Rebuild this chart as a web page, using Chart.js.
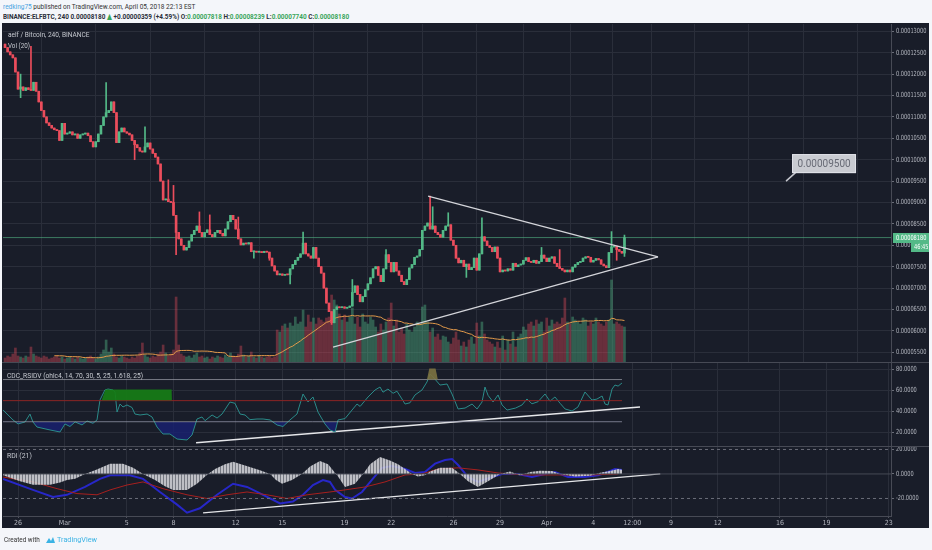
<!DOCTYPE html>
<html>
<head>
<meta charset="utf-8">
<script src="https://cdn.jsdelivr.net/npm/chart.js@4.4.1/dist/chart.umd.min.js"></script>
<style>
body{margin:0;background:#f4f6fa;width:932px;height:550px;overflow:hidden;position:relative;font-family:Roboto,'DejaVu Sans',sans-serif}
.t{position:absolute;white-space:nowrap;transform-origin:0 50%;line-height:1;z-index:3}
.in{color:#c5c8cf;font-size:8px}
.g{color:#3aa55a}
#frame{position:absolute;left:2px;top:23px;width:927px;height:505px;background:#191d29}
canvas{position:absolute;left:2px}
.sep{position:absolute;left:2px;width:927px;height:1px;background:#474a55;z-index:2}
</style>
</head>
<body>
<div id="frame"></div>
<canvas id="pricePane" width="927" height="340" style="top:23px"></canvas>
<canvas id="rsiPane" width="927" height="83" style="top:363px"></canvas>
<canvas id="rdiPane" width="927" height="81" style="top:447px"></canvas>
<div class="sep" style="top:362px"></div>
<div class="sep" style="top:446px"></div>

<div class="t" data-w="192" style="left:3px;top:2.5px;font-size:8px;color:#333"><span style="color:#4aa3df">redking75</span> published on TradingView.com, April 05, 2018 22:13 EST</div>
<div class="t" data-w="346" style="left:3px;top:12.5px;font-size:8px;font-weight:bold;color:#2a2e39">BINANCE:ELFBTC, 240 0.00008180 <span class="g">▲</span> +0.00000359 (+4.59%) O:<span class="g">0.00007818</span> H:<span class="g">0.00008239</span> L:<span class="g">0.00007740</span> C:<span class="g">0.00008180</span></div>
<div class="t in" data-w="81" style="left:8px;top:31px">aelf / Bitcoin, 240, BINANCE</div>
<div class="t in" data-w="22" style="left:8px;top:41.5px">Vol (20)</div>
<div class="t in" data-w="136" style="left:7px;top:372px">CDC_RSIDV (ohlc4, 14, 70, 30, 5, 25, 1.618, 25)</div>
<div class="t in" data-w="25" style="left:7px;top:452px">RDI (21)</div>
<div class="t" data-w="36" style="left:4px;top:536px;font-size:8px;color:#333">Created with</div>
<svg style="position:absolute;left:45px;top:535px" width="11" height="10" viewBox="0 0 11 10">
  <path d="M1 8 L4 3 L6 6 L8 2 L10 8 Z" fill="#3bb3e4"/>
</svg>
<div class="t" data-w="40" style="left:57px;top:536px;font-size:8px;color:#3bb3e4">TradingView</div>

<script>
// ---- time axis (days since Feb 26 2018 00:00) ----
const candleStartDay = -5 / 6;   // first 4h candle, Feb 25 04:00
const candleStepDay = 1 / 6;     // 240 minutes
const tickDays = [0, 3, 7, 10, 14, 17, 21, 24, 28, 31, 34, 37, 39.5, 42, 45, 49, 52, 56];
const tickLabels = ['26', 'Mar', '5', '8', '12', '15', '19', '22', '26', '29', 'Apr', '4', '12:00', '9', '12', '16', '19', '23'];

// ---- price, in satoshi (1e-8 BTC) ----
const firstOpen = 12700;
const closes = [
  12620, 12520, 12450, 12380, 12050, 11650, 11700, 11620, 11680, 11640,
  11620, 11810, 11600, 11350, 11150, 11000, 10860, 10800, 10740, 10700,
  10680, 10450, 10850, 10600, 10620, 10650, 10580, 10600, 10500, 10580,
  10600, 10620, 10560, 10420, 10300, 10420, 10600, 10800, 11000, 11100,
  11150, 11350, 11100, 10400, 10650, 10740, 10650, 10620, 10580, 10450,
  10350, 10280, 10200, 10180, 10300, 10390, 10250, 10150, 10060, 9900,
  9500, 9060, 9080, 9020, 9000, 8700, 8300, 8150, 8000, 7890,
  7950, 8100, 8250, 8350, 8450, 8300, 8200, 8300, 8360, 8250,
  8200, 8300, 8350, 8280, 8220, 8380, 8550, 8700, 8600, 8380,
  8150, 8010, 8050, 8030, 8060, 7850, 7860, 7840, 7850, 7830,
  7860, 7840, 7700, 7520, 7400, 7310, 7330, 7300, 7320, 7310,
  7450, 7550, 7650, 7720, 7800, 8050, 7800, 7750, 7700, 7950,
  7700, 7500, 7350, 7000, 6650, 6450, 6190, 6500, 6560, 6540,
  6560, 6530, 6550, 6580, 6900, 7050, 6850, 6680, 6800, 6960,
  7100, 7240, 7450, 7500, 7300, 7150, 7450, 7780, 7600, 7380,
  7600, 7400, 7300, 7150, 7080, 7200, 7470, 7550, 7720, 7750,
  7900, 8350, 8450, 8520, 8380, 8450, 8300, 8250, 8190, 8350,
  8450, 8480, 8120, 8000, 7700, 7590, 7650, 7500, 7560, 7430,
  7480, 7700, 7420, 7800, 8200, 8100, 7990, 7950, 7850, 7960,
  7700, 7380, 7420, 7400, 7450, 7420, 7580, 7500, 7540, 7560,
  7650, 7710, 7620, 7600, 7650, 7580, 7620, 7770, 7700, 7620,
  7700, 7730, 7580, 7500, 7460, 7420, 7380, 7420, 7380, 7490,
  7550, 7600, 7620, 7700, 7730, 7720, 7610, 7650, 7690, 7660,
  7560, 7520, 7480, 7830, 7960, 7980, 7900, 7860, 7818, 8180
];
// candles with visible wicks: index, high, low (null = no wick on that side)
const wickIdx  = [6, 10, 39, 50, 54, 63, 65, 66, 75, 79, 90, 96, 102, 110, 115, 126, 134, 147, 164, 165, 171, 178, 184, 207, 214, 234, 236, 239];
const wickHigh = [12000, 12650, 11800, null, 10770, 9530, 9400, null, 8780, 8710, 8660, null, null, null, 8310, null, 7200, 7900, 9150, 8900, 8760, null, 8640, 7950, 7900, 8320, null, 8239];
const wickLow  = [11450, null, null, 10000, 10230, null, null, 7780, null, null, null, 7700, 7650, 7100, null, 6150, null, null, null, null, null, 7250, null, null, null, null, 7650, 7740];

const volumes = [
  4, 6, 5, 8, 14, 6, 5, 4, 6, 5,
  15, 8, 6, 5, 4, 6, 5, 3, 4, 5,
  6, 4, 5, 3, 4, 5, 4, 3, 5, 4,
  3, 4, 5, 6, 4, 3, 5, 8, 12, 22,
  10, 14, 8, 5, 4, 6, 5, 4, 3, 5,
  4, 6, 9, 19, 7, 5, 4, 6, 5, 8,
  10, 17, 9, 6, 8, 12, 65, 17, 8, 6,
  5, 6, 4, 7, 9, 5, 6, 4, 5, 3,
  5, 4, 6, 5, 4, 7, 5, 9, 6, 5,
  8, 16, 7, 5, 6, 10, 5, 4, 6, 5,
  4, 5, 6, 4, 5, 32, 30, 36, 38, 34,
  39, 36, 45, 38, 40, 52, 35, 47, 40, 44,
  38, 44, 42, 40, 44, 45, 67, 62, 57, 48,
  42, 47, 40, 45, 54, 38, 45, 35, 48, 40,
  38, 45, 42, 35, 30, 38, 32, 40, 44, 59,
  36, 42, 30, 34, 28, 38, 32, 30, 35, 40,
  38, 55, 57, 40, 30, 34, 25, 28, 22, 26,
  25, 20, 18, 24, 30, 22, 16, 20, 15, 22,
  25, 18, 39, 26, 40, 28, 22, 20, 18, 15,
  20, 14, 26, 12, 22, 18, 30, 15, 25, 28,
  35, 32, 38, 40, 36, 42, 38, 40, 30, 44,
  36, 42, 38, 40, 38, 44, 64, 40, 38, 45,
  42, 40, 38, 44, 42, 36, 40, 38, 44, 40,
  38, 36, 40, 42, 82, 38, 40, 38, 36, 35
];
const volMaLength = 20;
const priceTicks = [5500, 6000, 6500, 7000, 7500, 8000, 8500, 9000, 9500, 10000, 10500, 11000, 11500, 12000, 12500, 13000];

// triangle drawing (day, price)
const triUpper = [[26.37, 9150], [41.16, 7728]];
const triLower = [[20.26, 5620], [41.16, 7728]];
const calloutDay = 49.39, calloutPrice = 9500;

// ---- CDC_RSIDV ----
const rsiDays = [-0.96, -0.32, 0, 0.45, 0.77, 0.96, 1.22, 2.06, 2.70, 3.02, 3.34, 3.67, 4.12, 4.44, 4.82, 5.08, 5.27, 5.59, 5.79, 6.11, 6.24, 6.37, 6.56, 6.75, 7.01, 7.33, 7.52, 7.85, 8.30, 8.62, 8.94, 9.32, 9.77, 10.23, 10.87, 11.19, 11.51, 11.83, 12.03, 12.48, 12.80, 13.12, 13.63, 13.95, 14.28, 14.60, 14.92, 15.37, 15.76, 16.21, 16.66, 17.04, 17.49, 17.94, 18.33, 18.65, 18.97, 19.29, 19.74, 20.06, 20.39, 20.58, 21.03, 21.48, 21.80, 22.0, 22.51, 22.96, 23.28, 23.47, 23.79, 24.12, 24.37, 24.69, 24.89, 25.21, 25.53, 25.98, 26.30, 26.50, 26.69, 27.14, 27.59, 27.91, 28.30, 28.75, 29.20, 29.52, 29.84, 30.03, 30.23, 30.55, 30.87, 31.13, 31.45, 32.0, 32.41, 32.73, 33.05, 33.44, 33.89, 34.21, 34.53, 34.86, 35.18, 35.63, 36.01, 36.46, 36.91, 37.23, 37.56, 37.75, 37.94, 38.20, 38.39, 38.59, 38.84];
const rsiValues = [41.1, 31.7, 27.9, 29.8, 37.3, 29.8, 25.0, 22.2, 20.3, 27.9, 25.5, 29.8, 27.0, 30.7, 28.5, 31.7, 50.6, 60.1, 61.0, 60.1, 58.2, 39.2, 46.8, 44.0, 45.9, 43.5, 37.3, 36.4, 37.3, 34.5, 25.0, 18.4, 18.4, 13.6, 12.7, 17.4, 32.6, 34.5, 31.0, 36.4, 33.5, 37.3, 48.7, 47.5, 37.3, 36.4, 32.0, 32.6, 32.6, 31.7, 26.9, 25.5, 31.7, 37.3, 56.3, 48.7, 53.5, 39.2, 27.9, 22.2, 20.3, 31.7, 33.0, 41.1, 46.8, 44.5, 53.5, 60.1, 62.9, 58.0, 61.0, 57.0, 59.0, 51.6, 46.8, 48.0, 55.4, 60.1, 67.7, 75.3, 72.5, 64.8, 65.8, 56.3, 42.1, 43.0, 46.8, 42.1, 48.7, 62.9, 55.0, 48.7, 55.4, 45.9, 41.1, 43.0, 45.9, 51.6, 47.0, 49.0, 56.3, 49.5, 53.5, 47.5, 42.1, 40.2, 44.0, 58.2, 50.6, 51.5, 54.4, 46.8, 45.9, 61.0, 64.8, 63.8, 66.7];
const rsiLevels = [70, 50, 30];
const bullZone = [[5.38, 50.4], [5.62, 60.5], [9.88, 60.5], [9.9, 50.4]];
const topZone = [[26.3, 70], [26.45, 80.5], [26.85, 80.5], [27.0, 70]];
const rsiTrend = [[11.45, 10.1], [40.0, 44.0]];
const rsiTicks = [20, 40, 60, 80];

// ---- RDI (21) ----
const histDays = [-0.96, -0.51, 0.13, 0.96, 2.06, 2.70, 3.15, 3.67, 4.31, 4.95, 5.59, 5.92, 6.75, 7.40, 8.04, 8.81, 9.45, 9.97, 10.87, 11.51, 12.22, 12.67, 13.31, 13.83, 14.60, 15.56, 16.21, 16.59, 16.98, 17.62, 18.26, 18.78, 19.42, 19.94, 20.32, 20.58, 21.03, 21.67, 22.19, 22.64, 23.28, 23.92, 24.44, 24.89, 25.34, 25.72, 26.17, 26.50, 27.14, 27.91, 28.23, 28.42, 28.94, 29.58, 30.23, 31.00, 31.64, 32.28, 32.93, 33.57, 34.34, 34.86, 35.82, 36.78, 37.43, 38.07, 38.59, 38.84];
const histValues = [-1, -3, -6, -8.8, -8.8, -7, -5, -4, 0, 3, 6.5, 8.4, 8.4, 5, 0, -5, -10, -13, -13, -8, 0, 4, 8, 10, 7, 3, 0, -5, -8, -5, 0, 6, 10.6, 8, 2, -2, -10.7, -8, 0, 8, 13.9, 11, 8, 4, 0, -2, -1, 2, 5, 5, 2, 0, -6, -10.6, -6, 0, 2, -1, 1.5, 2.7, 2.5, 0, -2, -1.5, 1, 2.5, 4, 3.5];
const rdiDays = [-0.96, 0.96, 2.25, 3.15, 4.31, 5.27, 5.92, 7.20, 8.04, 9.13, 10.23, 10.87, 11.70, 12.80, 13.83, 14.73, 15.76, 16.85, 17.68, 18.33, 18.97, 19.61, 20.06, 20.39, 21.03, 21.48, 22.12, 22.77, 23.41, 24.05, 24.89, 25.53, 26.17, 26.82, 27.46, 27.91, 28.30, 28.94, 29.58, 30.48, 31.13, 32.15, 33.05, 33.89, 34.53, 35.37, 36.46, 37.30, 37.94, 38.39, 38.84];
const rdiValues = [-4, -13, -18.8, -17, -10.6, -4, -1, -1, -4, -14.7, -25, -31.6, -28, -17, -8, -10.6, -17, -24, -22.5, -17, -9, -5, -6.5, -13, -18.8, -20, -14.7, -4.7, 5, 6.5, 4, 0.8, 1.6, 8.4, 11.4, 12.2, 7.3, -2.5, -6.5, -2.5, 0, 0, -2.5, 0, 1.6, -2.5, -2.5, -1, 1.6, 4, 3.3];
const sigDays = [-0.96, 0.96, 2.51, 3.79, 5.08, 5.92, 7.01, 8.04, 9.32, 10.87, 12.15, 13.44, 14.73, 16.01, 17.30, 18.59, 20.06, 21.03, 22.32, 23.60, 24.89, 25.98, 27.01, 28.30, 29.58, 30.87, 32.60, 34.73, 36.91, 38.59];
const sigValues = [-2.5, -6.5, -12, -16, -17, -13, -9, -6.5, -12, -17, -20, -17, -14.7, -17, -20, -17, -14.7, -13, -10.6, -6.5, -0.8, 0, 4, 5, 3.3, 0.8, -0.8, -0.8, -0.8, 0];
const rdiTrend = [[11.9, -31.8], [41.3, 0.0]];
const rdiTicks = [-20, 0, 20];

// ---- styling ----
const upColor = '#53b987', downColor = '#eb4d5c';
const gridColor = '#2a2e3a', sepColor = '#474a55', textColor = '#b2b5be';
const axisFont = {family: "'DejaVu Sans Condensed', Roboto", size: 7};
const labelFont = "7px 'DejaVu Sans Condensed', Roboto";
const labelSqueeze = 0.8;
const xMin = -0.965, xMax = 56.14;

const dayOf = i => candleStartDay + i * candleStepDay;
const pts = arr => arr.map(p => ({x: p[0], y: p[1]}));
const zip = (xs, ys) => xs.map((x, i) => ({x: x, y: ys[i]}));

const opens = closes.map((c, i) => i === 0 ? firstOpen : closes[i - 1]);
const highs = closes.map((c, i) => Math.max(c, opens[i]));
const lows = closes.map((c, i) => Math.min(c, opens[i]));
wickIdx.forEach((k, j) => {
  if (wickHigh[j] !== null) highs[k] = Math.max(highs[k], wickHigh[j]);
  if (wickLow[j] !== null) lows[k] = Math.min(lows[k], wickLow[j]);
});
const isUp = closes.map((c, i) => c >= opens[i]);
const volMa = volumes.map((v, i) => {
  if (i < volMaLength - 1) return null;
  let s = 0;
  for (let k = i - volMaLength + 1; k <= i; k++) s += volumes[k];
  return s / volMaLength;
});
const lastClose = closes[closes.length - 1];

// histogram stripes like the thin columns of the original
const stripe = document.createElement('canvas');
stripe.width = 3; stripe.height = 1;
const sctx = stripe.getContext('2d');
sctx.fillStyle = 'rgba(208,209,214,0.9)';
sctx.fillRect(0, 0, 2, 1);
sctx.fillStyle = 'rgba(150,152,160,0.75)';
sctx.fillRect(2, 0, 1, 1);
const histFill = sctx.createPattern(stripe, 'repeat');

function squeezedText(ctx, text, x, y) {
  ctx.save();
  ctx.translate(x, y);
  ctx.scale(labelSqueeze, 1);
  ctx.fillText(text, 0, 0);
  ctx.restore();
}

function xAxis(showLabels) {
  return {
    type: 'linear', min: xMin, max: xMax, offset: false,
    afterBuildTicks: s => { s.ticks = tickDays.map(v => ({value: v})); },
    afterFit: s => { s.height = showLabels ? 12 : 0; },
    grid: {color: gridColor, drawTicks: showLabels, tickLength: 2, tickColor: '#50535e'},
    border: {display: showLabels, color: sepColor},
    ticks: {display: showLabels, autoSkip: false, maxRotation: 0, padding: 1, color: textColor, font: axisFont,
      callback: (v, i) => tickLabels[i]}
  };
}

function yAxis(min, max, ticks, gridOn) {
  return {
    position: 'right', min: min, max: max,
    afterBuildTicks: s => { s.ticks = ticks.map(v => ({value: v})); },
    afterFit: s => { s.width = 38; },
    grid: {color: gridOn ? gridColor : 'rgba(0,0,0,0)', tickLength: 3, tickColor: '#6a6d78'},
    border: {display: true, color: sepColor},
    ticks: {display: false}
  };
}

// right-axis labels, drawn narrower like the screenshot
function yLabels(ticks, fmt) {
  return {
    id: 'yLabels',
    afterDraw(chart) {
      const {ctx, chartArea, scales} = chart;
      ctx.save();
      ctx.fillStyle = textColor;
      ctx.font = labelFont;
      ctx.textBaseline = 'middle';
      ticks.forEach(v => squeezedText(ctx, fmt(v), chartArea.right + 5, scales.y.getPixelForValue(v)));
      ctx.restore();
    }
  };
}

// keep value<->pixel mapping exact whatever padding the layout added
function pin(chart, id, horizontal, p0, p1, v0, v1) {
  const a = chart.chartArea, s = (v1 - v0) / (p1 - p0), o = chart.options.scales[id];
  if (horizontal) { o.min = v0 + (a.left - p0) * s; o.max = v0 + (a.right - p0) * s; }
  else { o.min = v0 + (a.bottom - p0) * s; o.max = v0 + (a.top - p0) * s; }
}

const baseOpts = {
  responsive: false, animation: false,
  plugins: {legend: {display: false}, tooltip: {enabled: false}},
  elements: {point: {radius: 0}, line: {tension: 0}}
};

// green last-price label + countdown on the price axis
const lastPriceTag = {
  id: 'lastPriceTag',
  afterDraw(chart) {
    const {ctx, chartArea, scales} = chart;
    const py = Math.round(scales.y.getPixelForValue(lastClose));
    ctx.save();
    ctx.fillStyle = upColor;
    ctx.fillRect(chartArea.right + 2, py - 5, 36, 10);
    ctx.fillRect(chartArea.right + 20, py + 5, 18, 9);
    ctx.fillStyle = '#ffffff';
    ctx.font = labelFont;
    ctx.textBaseline = 'middle';
    squeezedText(ctx, (lastClose / 1e8).toFixed(8), chartArea.right + 5, py);
    squeezedText(ctx, '46:45', chartArea.right + 23, py + 9.5);
    ctx.restore();
  }
};

// price label drawing with pointer
const calloutTag = {
  id: 'calloutTag',
  afterDatasetsDraw(chart) {
    const {ctx, scales} = chart;
    const ax = scales.x.getPixelForValue(calloutDay);
    const ay = scales.y.getPixelForValue(calloutPrice);
    ctx.save();
    ctx.strokeStyle = '#c3c5cc';
    ctx.lineWidth = 1.5;
    ctx.beginPath();
    ctx.moveTo(ax, ay);
    ctx.lineTo(ax + 10, ay - 9);
    ctx.stroke();
    ctx.fillStyle = '#c9cbd1';
    ctx.strokeStyle = '#e0e2e8';
    ctx.lineWidth = 1;
    ctx.fillRect(ax + 6, ay - 27, 64, 19);
    ctx.strokeRect(ax + 6.5, ay - 26.5, 63, 18);
    ctx.fillStyle = '#676a75';
    ctx.font = '10px Roboto';
    ctx.textAlign = 'center';
    ctx.textBaseline = 'middle';
    ctx.fillText((calloutPrice / 1e8).toFixed(8), ax + 38, ay - 17);
    ctx.restore();
  }
};

const priceChart = new Chart(document.getElementById('pricePane'), {
  type: 'bar',
  data: {
    datasets: [
      {label: 'Volume', yAxisID: 'yv', grouped: false, barThickness: 2, order: 10,
        data: volumes.map((v, i) => ({x: dayOf(i), y: v})),
        backgroundColor: isUp.map(u => u ? 'rgba(83,185,135,0.42)' : 'rgba(235,77,92,0.38)')},
      {type: 'line', label: 'Vol MA', yAxisID: 'yv', order: 9, borderColor: '#e39a4a', borderWidth: 1,
        data: volMa.map((v, i) => ({x: dayOf(i), y: v}))},
      {type: 'line', label: 'Last', order: 8, borderColor: 'rgba(83,185,135,0.6)', borderWidth: 1,
        data: [{x: xMin, y: lastClose}, {x: xMax, y: lastClose}]},
      {label: 'Wicks', grouped: false, barThickness: 1, order: 3,
        data: closes.map((c, i) => ({x: dayOf(i), y: [lows[i], highs[i]]})),
        backgroundColor: isUp.map(u => u ? upColor : downColor)},
      {label: 'Bodies', grouped: false, barThickness: 2, minBarLength: 1, order: 2,
        data: closes.map((c, i) => ({x: dayOf(i), y: [opens[i], c]})),
        backgroundColor: isUp.map(u => u ? upColor : downColor)},
      {type: 'line', label: 'Tri upper', order: 1, borderColor: '#d4d5da', borderWidth: 1.2, data: pts(triUpper)},
      {type: 'line', label: 'Tri lower', order: 1, borderColor: '#d4d5da', borderWidth: 1.2, data: pts(triLower)}
    ]
  },
  options: Object.assign({}, baseOpts, {
    layout: {autoPadding: false, padding: {left: 1, top: 1, right: 0, bottom: 1}},
    scales: {
      x: xAxis(false),
      y: yAxis(5273, 13171, priceTicks, true),
      yv: {display: false, min: 0, max: 338}
    }
  }),
  plugins: [calloutTag, yLabels(priceTicks, v => (v / 1e8).toFixed(8)), lastPriceTag]
});

const levelLine = (v, color) => ({label: 'L' + v, borderColor: color, borderWidth: 1,
  data: [{x: xMin, y: v}, {x: rsiDays[rsiDays.length - 1], y: v}]});

const rsiChart = new Chart(document.getElementById('rsiPane'), {
  type: 'line',
  data: {
    datasets: [
      {label: 'Bull zone', borderWidth: 0, data: pts(bullZone),
        fill: {target: {value: 50.4}, above: 'rgba(22,125,22,0.92)', below: 'rgba(22,125,22,0.92)'}},
      {label: 'Top zone', borderWidth: 0, data: pts(topZone),
        fill: {target: {value: 70}, above: 'rgba(125,115,65,0.9)', below: 'rgba(125,115,65,0.9)'}},
      levelLine(rsiLevels[0], 'rgba(160,163,172,0.7)'),
      levelLine(rsiLevels[1], '#8c2424'),
      levelLine(rsiLevels[2], 'rgba(160,163,172,0.7)'),
      {label: 'RSI', borderColor: '#2b8c8a', borderWidth: 1, data: zip(rsiDays, rsiValues),
        fill: {target: {value: 30}, above: 'rgba(0,0,0,0)', below: 'rgba(24,32,115,0.8)'}},
      {label: 'Trend', borderColor: '#e6e7ea', borderWidth: 1.3, data: pts(rsiTrend)}
    ]
  },
  options: Object.assign({}, baseOpts, {
    layout: {autoPadding: false, padding: {left: 1, top: 0, right: 0, bottom: 0}},
    scales: {
      x: xAxis(false),
      y: yAxis(7.0, 85.7, rsiTicks, true)
    }
  }),
  plugins: [yLabels(rsiTicks, v => v.toFixed(4))]
});

const rdiChart = new Chart(document.getElementById('rdiPane'), {
  type: 'line',
  data: {
    datasets: [
      {label: 'Zero', borderColor: '#454955', borderWidth: 1, data: [{x: xMin, y: 0}, {x: xMax, y: 0}]},
      {label: '+20', borderColor: '#6a6d78', borderWidth: 1, borderDash: [3, 3], data: [{x: xMin, y: 20}, {x: xMax, y: 20}]},
      {label: '-20', borderColor: '#6a6d78', borderWidth: 1, borderDash: [3, 3], data: [{x: xMin, y: -20}, {x: xMax, y: -20}]},
      {label: 'Histogram', borderWidth: 0, data: zip(histDays, histValues),
        fill: {target: 'origin', above: histFill, below: histFill}},
      {label: 'Signal', borderColor: '#a8201f', borderWidth: 1, data: zip(sigDays, sigValues)},
      {label: 'RDI', borderColor: '#2727c8', borderWidth: 2, data: zip(rdiDays, rdiValues)},
      {label: 'Trend', borderColor: '#e6e7ea', borderWidth: 1.3, data: pts(rdiTrend)}
    ]
  },
  options: Object.assign({}, baseOpts, {
    layout: {autoPadding: false, padding: {left: 1, top: 0, right: 0, bottom: 0}},
    scales: {
      x: xAxis(true),
      y: yAxis(-34.3, 22.0, rdiTicks, false)
    }
  }),
  plugins: [yLabels(rdiTicks, v => v.toFixed(4))]
});

// canvas pixel targets: plot spans x 1..889 in every pane
pin(priceChart, 'x', true, 1, 889, xMin, xMax);
pin(priceChart, 'y', false, 339, 1, 5273, 13171);
pin(priceChart, 'yv', false, 339, 1, 0, 338);
priceChart.update('none');
pin(rsiChart, 'x', true, 1, 889, xMin, xMax);
pin(rsiChart, 'y', false, 83, 0, 7.0, 85.7);
rsiChart.update('none');
pin(rdiChart, 'x', true, 1, 889, xMin, xMax);
pin(rdiChart, 'y', false, 69, 0, -34.3, 22.0);
rdiChart.update('none');

// squeeze the condensed screenshot texts to their measured widths
document.querySelectorAll('[data-w]').forEach(el => {
  el.style.transform = 'scaleX(' + (el.dataset.w / el.offsetWidth) + ')';
});
</script>
</body>
</html>
